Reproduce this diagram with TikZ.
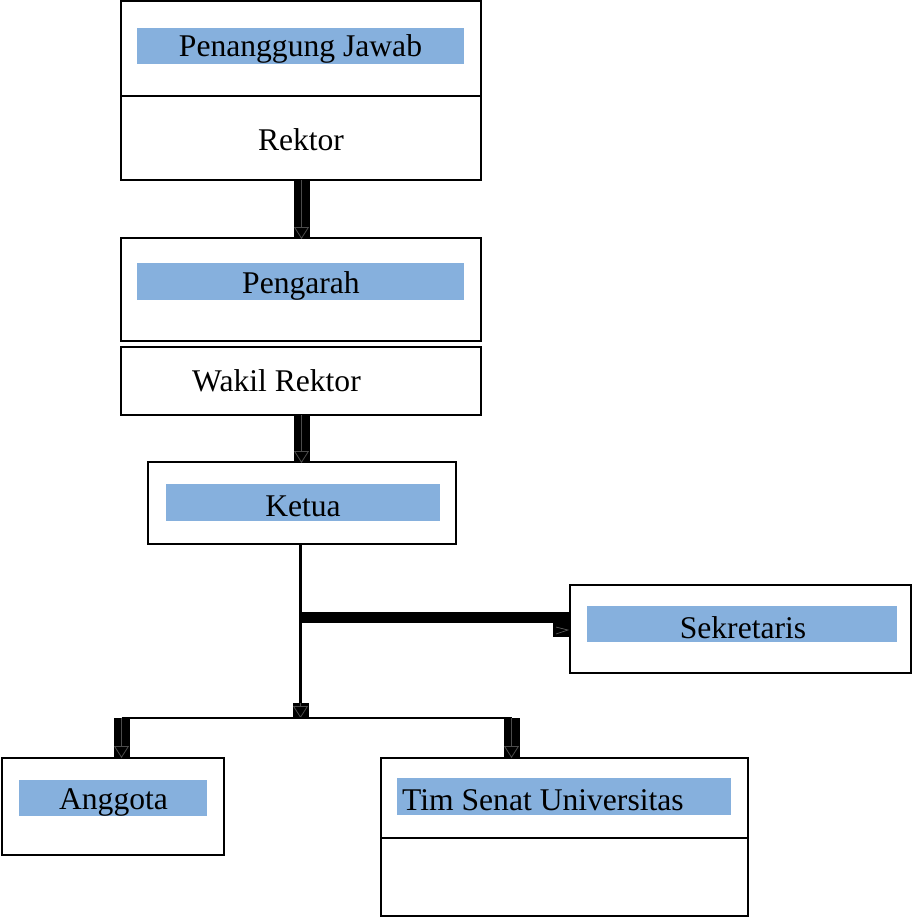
\documentclass[tikz,border=0pt]{standalone}
\usepackage{fontspec}
\setmainfont{Liberation Serif}
\usetikzlibrary{arrows.meta}
\definecolor{barblue}{HTML}{86B0DD}
\tikzset{
  box/.style={draw=black, line width=2.4pt, fill=white, inner sep=0pt},
  lbl/.style={fill=barblue, inner sep=0pt, font=\fontsize{31.6}{36}\selectfont},
  txt/.style={inner sep=0pt, font=\fontsize{31.6}{36}\selectfont},
  bar/.style={line width=16pt, black},
  inarrow/.style={line width=0.8pt, black!70, -{Triangle[open, length=12pt, width=15pt]}},
  thin/.style={line width=2.4pt, black}
}
\begin{document}
\begin{tikzpicture}[x=1pt, y=-1pt]
\useasboundingbox (0,0) rectangle (912,918);
% boxes
\node[box, minimum width=360, minimum height=95] (pj) at (301,48.5) {};
\node[box, minimum width=360, minimum height=84] (rk) at (301,138) {};
\node[box, minimum width=360, minimum height=103] (pg) at (301,289.5) {};
\node[box, minimum width=360, minimum height=68] (wr) at (301,381) {};
\node[box, minimum width=308, minimum height=82] (kt) at (302,503) {};
\node[box, minimum width=341, minimum height=88] (sk) at (740.5,629) {};
\node[box, minimum width=222, minimum height=97] (ag) at (113,806.5) {};
\node[box, minimum width=367, minimum height=80] (ts) at (564.5,798) {};
\node[box, minimum width=367, minimum height=78] (tsb) at (564.5,877) {};
% blue labels
\node[lbl, minimum width=327, minimum height=36] (l1) at (300.5,46) {};
\node[txt] at (300.5,49) {Penanggung Jawab};
\node[txt] (t2) at (301,140) {Rektor};
\node[lbl, minimum width=327, minimum height=37] (l3) at (300.5,281.5) {};
\node[txt] at (301,285.5) {Pengarah};
\node[txt] (t4) at (276.5,381) {Wakil Rektor};
\node[lbl, minimum width=274, minimum height=37] (l5) at (303,502.5) {};
\node[txt] at (303,506) {Ketua};
\node[lbl, minimum width=310, minimum height=36] (ls) at (742,624) {};
\node[txt] at (743,628) {Sekretaris};
\node[lbl, minimum width=188, minimum height=36] (la) at (113,798) {};
\node[txt] at (113.5,802) {Anggota};
\node[lbl, minimum width=334, minimum height=37] (lt) at (564,796.5) {};
\node[txt, anchor=west] at (402,800.5) {Tim Senat Universitas};
% connectors
\coordinate (rkb) at (301.5,180);
\coordinate (pgt) at (301.5,239);
\draw[bar] (rkb) -- (pgt);
\draw[inarrow] (rkb) -- (pgt);
\coordinate (wrb) at (301.5,415);
\coordinate (ktt) at (301.5,463);
\draw[bar] (wrb) -- (ktt);
\draw[inarrow] (wrb) -- (ktt);
% ketua down
\coordinate (kb) at (300.5,544);
\coordinate (hj) at (300.5,718);
\coordinate (ha) at (300.5,703);
\draw[thin] (kb) -- (hj);
\draw[bar] (ha) -- (hj);
\draw[inarrow] (ha) -- (hj);
% sekretaris bar
\coordinate (sj) at (300.5,617.5);
\coordinate (se) at (570,617.5);
\draw[line width=11pt] (sj) -- (se);
\fill (553,623) rectangle (570,637);
\draw[line width=0.6pt, black!60] (556,627) -- (568,630) -- (556,634);
% horizontal distribution
\coordinate (hl) at (121.5,718);
\coordinate (hr) at (511.5,718);
\draw[thin] (hl) -- (hr);
\coordinate (agt) at (121.5,758);
\coordinate (tst) at (511.5,758);
\draw[bar] (hl) -- (agt);
\draw[inarrow] (hl) -- (agt);
\draw[bar] (hr) -- (tst);
\draw[inarrow] (hr) -- (tst);
\end{tikzpicture}
\end{document}
